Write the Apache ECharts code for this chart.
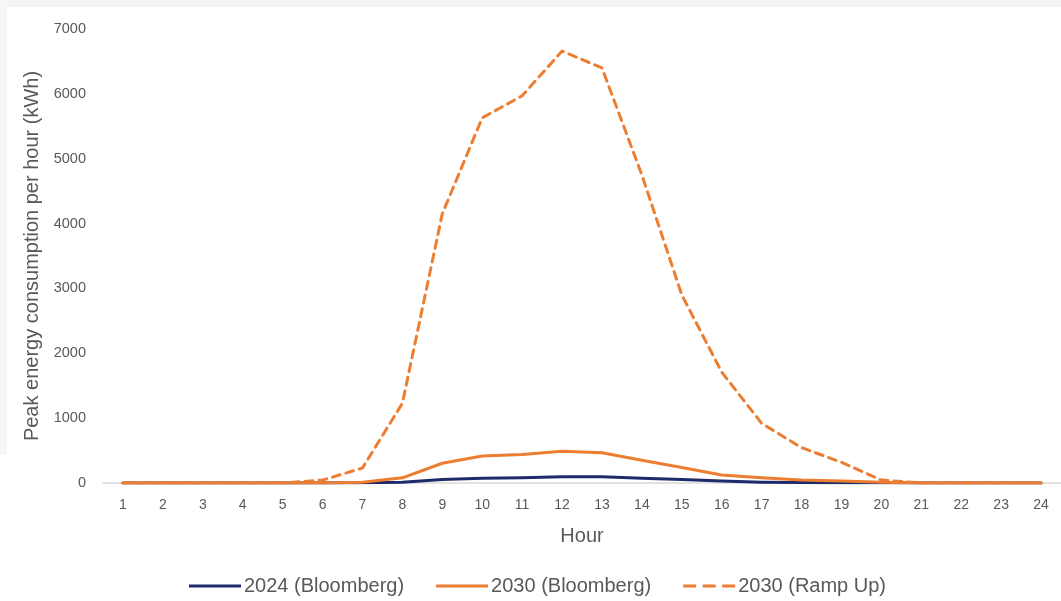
<!DOCTYPE html>
<html>
<head>
<meta charset="utf-8">
<script src="https://cdn.jsdelivr.net/npm/echarts@6/dist/echarts.min.js"></script>
<style>html,body{margin:0;padding:0;background:#fff;}#c{width:1061px;height:601px;}</style>
</head>
<body>
<div id="c"></div>
<script>
const hours = ['1','2','3','4','5','6','7','8','9','10','11','12','13','14','15','16','17','18','19','20','21','22','23','24'];
const s2024 = [0,0,0,0,0,0,2,10,55,75,80,95,95,75,55,30,12,6,5,3,0,0,0,0];
const s2030 = [0,0,0,0,0,0,10,80,305,415,440,490,465,350,240,123,80,45,30,12,0,0,0,0];
const sRamp = [0,0,0,0,0,45,230,1230,4150,5630,5970,6660,6400,4750,2900,1710,920,545,320,45,0,0,0,0];
const yTicks = [0,1000,2000,3000,4000,5000,6000,7000];

const chart = echarts.init(document.getElementById('c'));
const navy = '#1F2A6B', orange = '#ED7D31';
const lineIcon = 'path://M0,0 L52,0 L52,3 L0,3 Z';
const dashIcon = 'path://M0,0 L13,0 L13,3 L0,3 Z M19.5,0 L32.5,0 L32.5,3 L19.5,3 Z M39,0 L52,0 L52,3 L39,3 Z';
chart.setOption({
  animation: false,
  backgroundColor: '#fff',
  graphic: [
    {type:'rect', shape:{x:0,y:0,width:1061,height:7}, style:{fill:'#f3f4f6'}, z:-10},
    {type:'rect', shape:{x:0,y:0,width:7,height:455}, style:{fill:'#f5f6f7'}, z:-10}
  ],
  grid: {left: 103, top: 29, width: 962, bottom: 118},
  legend: {
    top: 571, left: 184,
    itemWidth: 52, itemHeight: 14, itemGap: 32,
    textStyle: {fontFamily: 'Liberation Sans, sans-serif', fontSize: 20, color: '#595959', padding:[0,0,0,-2]},
    data: [
      {name:'2024 (Bloomberg)', icon:lineIcon, itemStyle:{color:navy}},
      {name:'2030 (Bloomberg)', icon:lineIcon, itemStyle:{color:orange}},
      {name:'2030 (Ramp Up)', icon:dashIcon, itemStyle:{color:orange}}
    ]
  },
  xAxis: {
    type: 'category', data: hours, boundaryGap: true,
    name: 'Hour', nameLocation: 'middle', nameGap: 43,
    nameTextStyle: {fontFamily:'Liberation Sans, sans-serif', fontSize: 20, color: '#595959'},
    axisLine: {lineStyle: {color: '#d9d9d9', width: 1.5}},
    axisTick: {show: false},
    axisLabel: {fontFamily:'Liberation Sans, sans-serif', fontSize: 14, color: '#595959', margin: 15}
  },
  yAxis: {
    type: 'value', min: 0, max: 7000, interval: 1000,
    name: 'Peak energy consumption per hour (kWh)', nameLocation: 'middle', nameGap: 59, nameRotate: 90,
    nameTextStyle: {fontFamily:'Liberation Sans, sans-serif', fontSize: 20, color: '#595959'},
    axisLine: {show: false}, axisTick: {show: false},
    splitLine: {show: false},
    axisLabel: {fontFamily:'Liberation Sans, sans-serif', fontSize: 14.5, color: '#595959', margin: 17,
      formatter: v => yTicks.includes(v) ? String(v) : ''}
  },
  series: [
    {name:'2024 (Bloomberg)', type:'line', data:s2024, symbol:'none', z:3,
     lineStyle:{color:navy, width:3, cap:'round', join:'round'}, itemStyle:{color:navy}},
    {name:'2030 (Bloomberg)', type:'line', data:s2030, symbol:'none', z:4,
     lineStyle:{color:orange, width:3, cap:'round', join:'round'}, itemStyle:{color:orange}},
    {name:'2030 (Ramp Up)', type:'line', data:sRamp, symbol:'none', z:5,
     lineStyle:{color:orange, width:3, type:[8,6], cap:'round', join:'round'}, itemStyle:{color:orange}}
  ]
});
</script>
</body>
</html>
